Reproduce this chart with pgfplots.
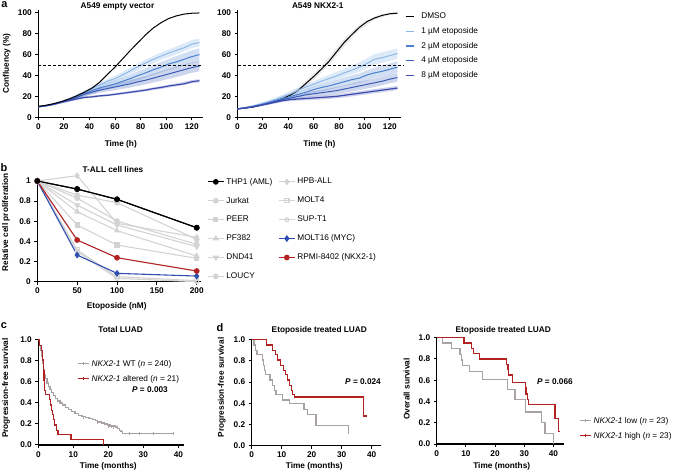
\documentclass[border=0pt]{standalone}
\usepackage{pgfplots}
\pgfplotsset{compat=1.18}
\usepackage{fontspec}
\setmainfont{Liberation Sans}
\setsansfont{Liberation Sans}
\definecolor{cA}{HTML}{8FB8E8}
\definecolor{cB}{HTML}{4A80D0}
\definecolor{cC}{HTML}{3A5BB8}
\definecolor{cD}{HTML}{3D4BB0}
\definecolor{lg}{HTML}{D3D3D3}
\definecolor{kmr}{HTML}{B22222}
\definecolor{kmg}{HTML}{A8A2A2}
\definecolor{mb}{HTML}{2E4FB0}
\newcommand\fs{\fontsize{8.3}{10}\selectfont}
\pgfplotsset{
  myax/.style={
    scale only axis, axis lines*=left, axis line style={line width=1.1bp},
    tick align=outside, major tick length=3bp, tick style={black, line width=1bp},
    minor tick num=0,
    ticklabel style={font=\fs\bfseries},
    label style={font=\fs\bfseries},
    title style={font=\fs\bfseries, anchor=center, yshift=-6pt},
    /pgf/number format/assume math mode=true,
    clip=false, anchor=south west, enlargelimits=false,
    xmin=0, ymin=0,
    ylabel style={anchor=center},
    xlabel style={anchor=center},
  },
  kmax/.style={myax, xtick={0,10,20,30,40}, ytick={0,0.2,...,1.0}, ymax=1,
    yticklabel style={/pgf/number format/.cd, fixed, fixed zerofill, precision=1},
  },
  km/.style={const plot, line width=1.3bp},
}
\begin{document}
\begin{tikzpicture}
\path[use as bounding box] (0,0) rectangle (674bp,473bp);
% panel letters
\node[font=\fontsize{11}{12}\selectfont\bfseries] at (4.5bp,468bp) {a};
\node[font=\fontsize{11}{12}\selectfont\bfseries] at (4bp,305.5bp) {b};
\node[font=\fontsize{11}{12}\selectfont\bfseries] at (4bp,147bp) {c};
\node[font=\fontsize{11}{12}\selectfont\bfseries] at (220bp,145bp) {d};

% ---------- a left
\begin{axis}[myax, at={(38.3bp,355.7bp)}, width=165bp, height=107.7bp,
  xmax=129, ymax=103, xtick={0,20,...,120}, ytick={0,20,...,100},
  xlabel={Time (h)}, ylabel={Confluency (\%)}, title={A549 empty vector},
  title style={at={(axis description cs:0.48,1.033)}},
  xlabel style={at={(axis description cs:0.5,-0.251)}},
  ylabel style={at={(axis description cs:-0.1915,0.5)}}]
\addplot[fill=cA, fill opacity=0.3, draw=none] coordinates {(0,10.5)(12,13.3)(24,18.2)(36,25.5)(48,33.2)(60,39.6)(72,47.5)(84,55.4)(96,62.1)(108,67.8)(120,73.8)(126,75.3)(126,67.7)(120,66.2)(108,60.2)(96,54.9)(84,48.6)(72,41.5)(60,34.4)(48,28.8)(36,21.7)(24,15.8)(12,11.7)(0,9.5)};
\addplot[fill=cB, fill opacity=0.25, draw=none] coordinates {(0,10.5)(12,13.5)(24,18)(36,25)(48,31)(60,35.5)(72,41)(84,47)(96,53)(108,58.5)(120,64)(126,66)(126,54)(120,52)(108,47.5)(96,43)(84,38)(72,33)(60,28.5)(48,25)(36,20)(24,15)(12,11.5)(0,9.5)};
\addplot[fill=cC, fill opacity=0.25, draw=none] coordinates {(0,10.5)(12,13.5)(24,18)(36,24)(48,28.5)(60,32)(72,35.5)(84,39.5)(96,44)(108,48.5)(120,52.5)(126,54)(126,44)(120,42.5)(108,38.5)(96,35)(84,31.5)(72,28.5)(60,26)(48,23.5)(36,20)(24,15)(12,11.5)(0,9.5)};
\addplot[fill=cD, fill opacity=0.25, draw=none] coordinates {(0,10.5)(12,13.1)(24,17)(36,20)(48,21.5)(60,23)(72,25.2)(84,27.2)(96,29.8)(108,32.4)(120,35.5)(126,36.5)(126,33.5)(120,32.5)(108,29.6)(96,27.2)(84,24.8)(72,22.8)(60,21)(48,19.5)(36,18)(24,15)(12,11.9)(0,9.5)};
\addplot[cA, line width=1bp] coordinates {(0,10)(6,11)(12,12.5)(18,14.5)(24,17)(30,20)(36,23.5)(42,27.5)(48,31)(54,34.5)(60,37)(66,40.5)(72,44.5)(78,48.5)(84,52)(90,55.5)(96,58.5)(102,61.5)(108,64)(114,66.5)(120,70)(126,71.5)};
\addplot[cB, line width=1bp] coordinates {(0,10)(6,11)(12,12.5)(18,14.5)(24,16.5)(30,19)(36,22.5)(42,25.5)(48,28)(54,30)(60,32)(66,34.5)(72,37)(78,40)(84,42.5)(90,45.5)(96,48)(102,51)(108,53)(114,55.5)(120,58)(126,60)};
\addplot[cC, line width=1bp] coordinates {(0,10)(6,11)(12,12.5)(18,14.5)(24,16.5)(30,19)(36,22)(42,24)(48,26)(54,27.5)(60,29)(66,30.5)(72,32)(78,34)(84,35.5)(90,37.5)(96,39.5)(102,41.5)(108,43.5)(114,45.5)(120,47.5)(126,49)};
\addplot[cD, line width=1.2bp] coordinates {(0,10)(6,11)(12,12.5)(18,14.5)(24,16)(30,17.5)(36,19)(42,19.5)(48,20.5)(54,21)(60,22)(66,23)(72,24)(78,25)(84,26)(90,27.5)(96,28.5)(102,30)(108,31)(114,32)(120,34)(126,35)};
\addplot[black, line width=1bp] coordinates {(0,10.5)(6,11.5)(12,13)(18,15)(24,17.5)(30,20.5)(36,24)(42,28)(48,33.5)(54,41)(60,48)(66,56)(72,64)(78,71.5)(84,79)(90,85.5)(96,90.5)(102,94.5)(108,97)(114,98.7)(120,99.5)(126,99.8)};
\addplot[black, dashed, line width=1bp, dash pattern=on 3bp off 2bp] coordinates {(0,50)(128,50)};
\end{axis}

% ---------- a right
\begin{axis}[myax, at={(237.5bp,355.7bp)}, width=163.8bp, height=107.7bp,
  xmax=129, ymax=103, xtick={0,20,...,120}, ytick={0,20,...,100},
  xlabel={Time (h)}, title={A549 NKX2-1},
  title style={at={(axis description cs:0.49,1.033)}},
  xlabel style={at={(axis description cs:0.5,-0.251)}},
  legend style={at={(1.022,0.99)}, anchor=north west, draw=none, fill=none, font=\fs, row sep=3.3bp, inner sep=0pt},
  legend cell align=left,
  legend image code/.code={\draw[#1, line width=1.2bp] (0bp,0bp) -- (8bp,0bp); \path (13bp,0bp);}]
\addplot[fill=lg, fill opacity=0.5, draw=none, forget plot] coordinates {(0,8.5)(12,10.6)(24,14.5)(36,19.5)(48,28)(60,42)(72,57)(84,75)(96,88.5)(108,96.5)(120,100)(126,100.3)(126,98.9)(120,98)(108,93.5)(96,83.5)(84,68)(72,50)(60,36)(48,24)(36,16.5)(24,12.5)(12,9)(0,7.5)};
\addplot[fill=cA, fill opacity=0.3, draw=none, forget plot] coordinates {(0,8.5)(12,11.5)(24,16)(36,22)(48,28.5)(60,34.5)(72,40.5)(84,46.5)(96,52.5)(108,60.5)(120,64)(126,66)(126,56)(120,54)(108,50.5)(96,43.5)(84,38.5)(72,33.5)(60,28.5)(48,23.5)(36,18)(24,13)(12,9.5)(0,7.5)};
\addplot[fill=cB, fill opacity=0.25, draw=none, forget plot] coordinates {(0,8.5)(12,11.5)(24,15.5)(36,20)(48,24.5)(60,29.5)(72,33.5)(84,38)(96,42)(108,47.5)(120,51.5)(126,53.5)(126,42.5)(120,40.5)(108,37.5)(96,33)(84,30)(72,26.5)(60,23.5)(48,19.5)(36,16)(24,12.5)(12,9.5)(0,7.5)};
\addplot[fill=cC, fill opacity=0.25, draw=none, forget plot] coordinates {(0,8.5)(12,10.8)(24,14.2)(36,18.5)(48,22)(60,25)(72,27.5)(84,30.5)(96,34)(108,37)(120,40.5)(126,42)(126,34)(120,32.5)(108,29)(96,26)(84,23.5)(72,21.5)(60,20)(48,18)(36,15.5)(24,11.8)(12,9.2)(0,7.5)};
\addplot[fill=cD, fill opacity=0.25, draw=none, forget plot] coordinates {(0,8.5)(12,10.8)(24,14)(36,17.2)(48,19)(60,20.3)(72,21.5)(84,23)(96,25)(108,27)(120,29)(126,30)(126,26)(120,25)(108,23)(96,21)(84,19)(72,17.5)(60,16.7)(48,16)(36,14.8)(24,12)(12,9.2)(0,7.5)};
\addplot[black, line width=1bp] coordinates {(0,8)(6,8.8)(12,9.8)(18,11.5)(24,13.5)(30,15.5)(36,18)(42,21.5)(48,26)(54,32.5)(60,39)(66,46)(72,53.5)(78,62.5)(84,71.5)(90,79)(96,86)(102,91.5)(108,95)(114,97.5)(120,99)(126,99.6)};
\addlegendentry{DMSO}
\addplot[cA, line width=1bp] coordinates {(0,8)(6,9)(12,10.5)(18,12.5)(24,14.5)(30,17)(36,20)(42,22.5)(48,26)(54,29)(60,31.5)(66,34.5)(72,37)(78,39.5)(84,42.5)(90,45)(96,48)(102,51.5)(108,55.5)(114,57)(120,59)(126,61)};
\addlegendentry{1 µM etoposide}
\addplot[cB, line width=1bp] coordinates {(0,8)(6,9)(12,10.5)(18,12)(24,14)(30,16)(36,18)(42,20)(48,22)(54,24)(60,26.5)(66,28.5)(72,30)(78,32)(84,34)(90,36)(96,37.5)(102,40.5)(108,42.5)(114,44)(120,46)(126,48)};
\addlegendentry{2 µM etoposide}
\addplot[cC, line width=1bp] coordinates {(0,8)(6,9)(12,10)(18,11.5)(24,13)(30,15)(36,17)(42,18.5)(48,20)(54,21.5)(60,22.5)(66,23.5)(72,24.5)(78,25.5)(84,27)(90,28.5)(96,30)(102,31.5)(108,33)(114,34.5)(120,36.5)(126,38)};
\addlegendentry{4 µM etoposide}
\addplot[cD, line width=1.2bp] coordinates {(0,8)(6,9)(12,10)(18,11.5)(24,13)(30,14.5)(36,16)(42,17)(48,17.5)(54,18)(60,18.5)(66,19)(72,19.5)(78,20)(84,21)(90,22)(96,23)(102,24)(108,25)(114,26)(120,27)(126,28)};
\addlegendentry{8 µM etoposide}
\addplot[black, dashed, line width=1bp, dash pattern=on 3bp off 2bp, forget plot] coordinates {(0,50)(130,50)};
\end{axis}

% ---------- b
\begin{axis}[myax, at={(37.3bp,191.3bp)}, width=163.4bp, height=102.7bp,
  xmax=205, ymax=1.02, xtick={0,50,100,150,200}, ytick={0,0.2,0.4,0.6,0.8,1},
  xlabel={Etoposide (nM)}, ylabel={Relative cell proliferation}, title={T-ALL cell lines},
  title style={at={(axis description cs:0.463,1.088)}},
  xlabel style={at={(axis description cs:0.486,-0.243)}},
  ylabel style={at={(axis description cs:-0.1916,0.58)}},
  legend columns=6, transpose legend,
  legend style={at={(1.039,1.03)}, anchor=north west, draw=none, fill=none, font=\fs, row sep=7.5bp, inner sep=0pt,
    /tikz/every even column/.append style={column sep=4bp}},
  legend cell align=left,
  legend image code/.code={\draw[mark repeat=2,mark phase=2,#1] plot coordinates {(0bp,0bp) (8bp,0bp) (16bp,0bp)};},
  every axis plot/.append style={line width=1.1bp, mark size=2.3bp}]
\addplot[black, mark=*] coordinates {(0,1)(50,0.92)(100,0.818)(200,0.536)};
\addlegendentry{THP1 (AML)}
\addplot[lg, mark=*] coordinates {(0,1)(50,0.86)(100,0.785)(200,0.42)};
\addlegendentry{Jurkat}
\addplot[lg, mark=square*, mark size=2.1bp] coordinates {(0,1)(50,0.563)(100,0.364)(200,0.232)};
\addlegendentry{PEER}
\addplot[lg, mark=triangle*, mark size=2.6bp] coordinates {(0,1)(50,0.695)(100,0.507)(200,0.255)};
\addlegendentry{PF382}
\addplot[lg, mark=triangle*, mark size=2.6bp, mark options={rotate=180}] coordinates {(0,1)(50,0.76)(100,0.563)(200,0.348)};
\addlegendentry{DND41}
\addplot[lg, mark=*] coordinates {(0,1)(50,0.83)(100,0.603)(200,0.371)};
\addlegendentry{LOUCY}
\addplot[lg, mark=diamond*, mark size=2.6bp] coordinates {(0,1)(50,1.053)(100,0.58)(200,0.44)};
\addlegendentry{HPB-ALL}
\addplot[lg, mark=square, mark size=2.1bp, mark options={fill=white}] coordinates {(0,1)(50,0.315)(100,0.05)(200,0.01)};
\addlegendentry{MOLT4}
\addplot[lg, mark=o, mark size=2bp, mark options={fill=white}] coordinates {(0,1)(50,0.30)(100,0.033)(200,0.0)};
\addlegendentry{SUP-T1}
\addplot[mb, mark=diamond*, mark size=2.6bp] coordinates {(0,1)(50,0.265)(100,0.083)(200,0.056)};
\addlegendentry{MOLT16 (MYC)}
\addplot[kmr, mark=*] coordinates {(0,1)(50,0.414)(100,0.238)(200,0.106)};
\addlegendentry{RPMI-8402 (NKX2-1)}
\addplot[black, mark=*, forget plot] coordinates {(0,1)(50,0.92)(100,0.818)(200,0.536)};
\end{axis}

% ---------- c
\begin{axis}[kmax, at={(38.3bp,28bp)}, width=145.3bp, height=105bp, xmax=41.5,
  xlabel={Time (months)}, ylabel={Progression-free survival}, title={Total LUAD},
  title style={at={(axis description cs:0.567,1.095)}},
  xlabel style={at={(axis description cs:0.482,-0.207)}},
  ylabel style={at={(axis description cs:-0.222,0.543)}},
  legend style={at={(0.268,0.829)}, anchor=north west, draw=none, fill=none, font=\fs, row sep=3.5bp, inner sep=0pt},
  legend cell align=left,
  legend image code/.code={\draw[#1, line width=1.1bp] (0bp,0bp) -- (11bp,0bp); \draw[#1, line width=0.8bp] (5.5bp,-1.5bp) -- (5.5bp,1.5bp);}]
\addplot[km, kmg] coordinates {(0,1)(0.3,0.95)(0.6,0.9)(0.9,0.84)(1.2,0.78)(1.5,0.72)(1.8,0.67)(2.1,0.63)(2.5,0.59)(2.9,0.56)(3.3,0.53)(3.8,0.5)(4.3,0.47)(4.9,0.44)(5.5,0.42)(6.2,0.40)(7,0.38)(7.8,0.36)(8.6,0.34)(9.5,0.32)(10.5,0.30)(11.5,0.28)(12.5,0.27)(13.5,0.26)(14.5,0.25)(15.5,0.24)(16.3,0.23)(17,0.22)(18,0.21)(19,0.2)(19.8,0.19)(20.5,0.18)(22,0.17)(22.7,0.16)(23.2,0.14)(23.6,0.13)(24.1,0.11)(38.6,0.11)};
\addlegendentry{\textit{NKX2-1} WT (\textit{n} = 240)}
\addplot[km, kmr] coordinates {(0,1)(0.4,0.95)(0.9,0.9)(1.2,0.81)(1.4,0.71)(1.6,0.62)(1.8,0.52)(2.0,0.48)(3.2,0.43)(3.5,0.38)(3.8,0.33)(4.0,0.29)(4.3,0.24)(4.6,0.19)(5.1,0.14)(5.6,0.10)(9.3,0.05)(18.6,0.0)};
\addlegendentry{\textit{NKX2-1} altered (\textit{n} = 21)}
\addplot[kmg, only marks, mark=|, mark size=1.6bp, line width=0.8bp, forget plot] coordinates {(13,0.26)(16.8,0.22)(20,0.18)(21,0.175)(21.5,0.17)(26,0.11)(29,0.11)(33,0.11)(38.6,0.11)};
\node[font=\fs\bfseries] at (axis cs:31.9,0.524) {\textit{P} = 0.003};
\end{axis}

% ---------- d left
\begin{axis}[kmax, at={(251.7bp,27.5bp)}, width=129bp, height=105.7bp, xmax=43,
  xlabel={Time (months)}, ylabel={Progression-free survival}, title={Etoposide treated LUAD},
  title style={at={(axis description cs:0.524,1.093)}},
  xlabel style={at={(axis description cs:0.485,-0.194)}},
  ylabel style={at={(axis description cs:-0.2326,0.55)}}]
\addplot[km, kmg] coordinates {(0,1)(0.8,0.95)(1.3,0.90)(1.8,0.86)(3.6,0.81)(3.9,0.76)(4.2,0.71)(4.7,0.67)(6.1,0.62)(7,0.57)(7.6,0.52)(8.1,0.48)(10.2,0.43)(12.6,0.40)(17.4,0.34)(18.6,0.29)(21.4,0.19)(32.2,0.11)};
\addplot[km, kmr] coordinates {(0,1)(5,0.95)(7,0.9)(8,0.86)(8.7,0.81)(9.5,0.76)(10.5,0.71)(11.3,0.67)(12,0.62)(12.7,0.57)(13.2,0.52)(13.7,0.48)(14.2,0.46)(37.3,0.28)(38.4,0.28)};
\node[font=\fs\bfseries] at (axis cs:37.1,0.60) {\textit{P} = 0.024};
\end{axis}

% ---------- d right
\begin{axis}[kmax, at={(436.7bp,29bp)}, width=127bp, height=106.3bp, xmax=43.5,
  xlabel={Time (months)}, ylabel={Overall survival}, title={Etoposide treated LUAD},
  title style={at={(axis description cs:0.524,1.072)}},
  xlabel style={at={(axis description cs:0.512,-0.207)}},
  ylabel style={at={(axis description cs:-0.236,0.517)}},
  legend style={at={(1.123,0.273)}, anchor=north west, draw=none, fill=none, font=\fs, row sep=3.5bp, inner sep=0pt},
  legend cell align=left,
  legend image code/.code={\draw[#1, line width=1.1bp] (0bp,0bp) -- (11bp,0bp); \draw[#1, line width=0.8bp] (5.5bp,-1.5bp) -- (5.5bp,1.5bp);}]
\addplot[km, kmg] coordinates {(0,1)(2,0.95)(5.1,0.9)(8,0.84)(8.4,0.79)(8.9,0.74)(11.2,0.68)(15.8,0.61)(24.2,0.51)(26.8,0.42)(30.3,0.30)(36,0.20)(37.1,0.10)(39.9,0.0)};
\addlegendentry{\textit{NKX2-1} low (\textit{n} = 23)}
\addplot[km, kmr] coordinates {(0,1)(9.3,0.95)(11.9,0.9)(12.6,0.85)(14.6,0.8)(23.9,0.75)(24.4,0.7)(24.7,0.65)(26.0,0.58)(30.3,0.53)(30.6,0.47)(31.0,0.42)(31.4,0.37)(40.5,0.24)(41.7,0.12)(42.2,0.12)};
\addlegendentry{\textit{NKX2-1} high (\textit{n} = 23)}
\node[font=\fs\bfseries] at (axis cs:40.5,0.586) {\textit{P} = 0.066};
\end{axis}
\end{tikzpicture}
\end{document}
